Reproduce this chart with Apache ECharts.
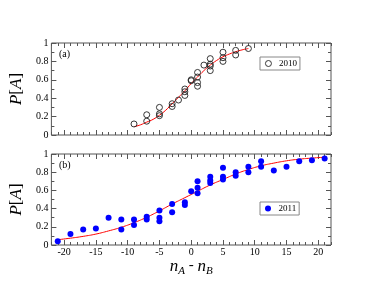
<!DOCTYPE html>
<html><head><meta charset="utf-8">
<script src="https://cdn.jsdelivr.net/npm/echarts@6/dist/echarts.min.js"></script>
<style>html,body{margin:0;padding:0;background:#fff}#c{width:374px;height:289px}</style>
</head><body><div id="c"></div>
<script>
// ---- data ----
const x2010 = [-9,-7,-7,-5,-5,-5,-3,-3,-2,-1,-1,-1,0,0,1,1,1,1,2,3,3,3,3,5,5,5,7,7,9];
const y2010 = [0.12,0.22,0.15,0.30,0.23,0.21,0.34,0.31,0.38,0.50,0.47,0.43,0.60,0.59,0.68,0.63,0.57,0.53,0.76,0.83,0.77,0.75,0.70,0.90,0.84,0.80,0.92,0.87,0.94];
const fitX2010 = [-9,-8,-7,-6,-5,-4,-3,-2,-1,0,1,2,3,4,5,6,7,8,9];
const fitY2010 = [0.09,0.11,0.14,0.17,0.215,0.27,0.34,0.41,0.48,0.56,0.63,0.70,0.76,0.81,0.85,0.88,0.905,0.925,0.94];

const x2011 = [-21,-19,-17,-15,-13,-11,-11,-9,-9,-7,-7,-5,-5,-5,-3,-3,-1,-1,0,1,1,1,3,3,3,5,5,5,7,7,9,9,11,11,13,15,17,19,21];
const y2011 = [0.04,0.12,0.17,0.18,0.30,0.28,0.17,0.28,0.22,0.31,0.28,0.38,0.30,0.26,0.45,0.36,0.47,0.44,0.59,0.70,0.63,0.57,0.75,0.71,0.68,0.85,0.75,0.72,0.80,0.76,0.86,0.80,0.92,0.86,0.82,0.86,0.92,0.93,0.95];
const fitX2011 = [-21,-19,-17,-15,-13,-11,-9,-7,-5,-3,-1,1,3,5,7,9,11,13,15,17,19,21];
const fitY2011 = [0.058,0.075,0.095,0.12,0.155,0.195,0.245,0.305,0.375,0.45,0.52,0.59,0.66,0.72,0.78,0.83,0.87,0.90,0.925,0.943,0.955,0.965];

const xMajorTicks = [-20,-15,-10,-5,0,5,10,15,20];
const xMin = -22, xMax = 22;
const yMin = 0, yMax = 1, yStep = 0.2;
const legend2010 = '2010', legend2011 = '2011';
const panelA = '(a)', panelB = '(b)';

// ---- chart ----
const serif = '"Liberation Serif","DejaVu Serif",serif';
const frame = '#555';
const grids = [
  {left: 43, top: 43, width: 288, height: 92, show: true, borderColor: frame, borderWidth: 1},
  {left: 43, top: 154, width: 288, height: 91, show: true, borderColor: frame, borderWidth: 1}
];
function xAxesFor(g, showLabels) {
  const base = {gridIndex: g, type: 'value', min: xMin, max: xMax, splitLine: {show: false},
    axisLine: {show: false, onZero: false}};
  const lbl = {show: showLabels, customValues: xMajorTicks, fontFamily: serif, fontSize: 10, color: '#000', margin: 2};
  const axes = [];
  ['bottom', 'top'].forEach(pos => {
    axes.push(Object.assign({}, base, {position: pos,
      axisTick: {inside: true, length: 5, customValues: xMajorTicks, lineStyle: {color: frame}},
      axisLabel: pos === 'bottom' ? lbl : {show: false},
      name: (pos === 'bottom' && showLabels) ? '{i|n}{s|A}{m| - }{i|n}{s|B}' : '',
      nameLocation: 'middle', nameGap: 9,
      nameTextStyle: {rich: {
        i: {fontFamily: serif, fontStyle: 'italic', fontSize: 17, lineHeight: 19, verticalAlign: 'top', color: '#000'},
        s: {fontFamily: serif, fontStyle: 'italic', fontSize: 11, lineHeight: 19, verticalAlign: 'bottom', color: '#000'},
        m: {fontFamily: serif, fontSize: 15, lineHeight: 19, verticalAlign: 'top', color: '#000'}
      }}
    }));
    axes.push(Object.assign({}, base, {position: pos, interval: 1,
      axisTick: {inside: true, length: 3, lineStyle: {color: frame}},
      axisLabel: {show: false}}));
  });
  return axes;
}
function yAxesFor(g) {
  const base = {gridIndex: g, type: 'value', min: yMin, max: yMax, interval: yStep, splitLine: {show: false},
    axisLine: {show: false, onZero: false},
    axisTick: {inside: true, length: 5, lineStyle: {color: frame}},
    minorTick: {show: true, splitNumber: 2, length: 3, lineStyle: {color: frame}}};
  return [
    Object.assign({}, base, {position: 'left',
      axisLabel: {fontFamily: serif, fontSize: 10, color: '#000', margin: 3},
      name: '{i|P}{r|[}{i|A}{r|]}', nameLocation: 'middle', nameGap: 16, nameRotate: 90,
      nameTextStyle: {rich: {
        i: {fontFamily: serif, fontStyle: 'italic', fontSize: 17, color: '#000'},
        r: {fontFamily: serif, fontSize: 17, color: '#000'}
      }}}),
    Object.assign({}, base, {position: 'right', axisLabel: {show: false}})
  ];
}
const zip = (xs, ys) => xs.map((x, i) => [x, ys[i]]);
const option = {
  animation: false,
  grid: grids,
  xAxis: [...xAxesFor(0, false), ...xAxesFor(1, true)],
  yAxis: [...yAxesFor(0), ...yAxesFor(1)],
  title: [
    {text: panelA, left: 59, top: 49, padding: 0, textStyle: {fontFamily: serif, fontSize: 10, fontWeight: 'normal', color: '#000'}},
    {text: panelB, left: 59, top: 160, padding: 0, textStyle: {fontFamily: serif, fontSize: 10, fontWeight: 'normal', color: '#000'}}
  ],
  legend: [
    {data: [legend2010], left: 260, top: 57, orient: 'vertical', padding: [2, 3, 2, 5], itemWidth: 7, itemHeight: 6, itemGap: 0,
      borderColor: '#888', borderWidth: 1, backgroundColor: '#fff',
      itemStyle: {borderWidth: 0.9, borderColor: '#222', color: 'rgba(255,255,255,0)'},
      textStyle: {fontFamily: serif, fontSize: 9, color: '#000', padding: [0, 0, 0, 2]}},
    {data: [legend2011], left: 260, top: 202, orient: 'vertical', padding: [2, 3, 2, 5], itemWidth: 7, itemHeight: 6, itemGap: 0,
      borderColor: '#888', borderWidth: 1, backgroundColor: '#fff',
      textStyle: {fontFamily: serif, fontSize: 9, color: '#000', padding: [0, 0, 0, 2]}}
  ],
  series: [
    {type: 'line', xAxisIndex: 0, yAxisIndex: 0, data: zip(fitX2010, fitY2010), smooth: true, showSymbol: false,
      lineStyle: {color: '#ff0000', width: 1}, z: 1, silent: true},
    {name: legend2010, type: 'scatter', xAxisIndex: 0, yAxisIndex: 0, data: zip(x2010, y2010), symbol: 'circle', symbolSize: 6,
      itemStyle: {color: 'rgba(255,255,255,0)', borderColor: '#222', borderWidth: 0.9, opacity: 1}, z: 2},
    {type: 'line', xAxisIndex: 4, yAxisIndex: 2, data: zip(fitX2011, fitY2011), smooth: true, showSymbol: false,
      lineStyle: {color: '#ff0000', width: 1}, z: 1, silent: true},
    {name: legend2011, type: 'scatter', xAxisIndex: 4, yAxisIndex: 2, data: zip(x2011, y2011), symbol: 'circle', symbolSize: 6,
      itemStyle: {color: '#0000ff', opacity: 1}, z: 2}
  ]
};
const chart = echarts.init(document.getElementById('c'), null, {renderer: 'canvas'});
chart.setOption(option);
</script></body></html>
